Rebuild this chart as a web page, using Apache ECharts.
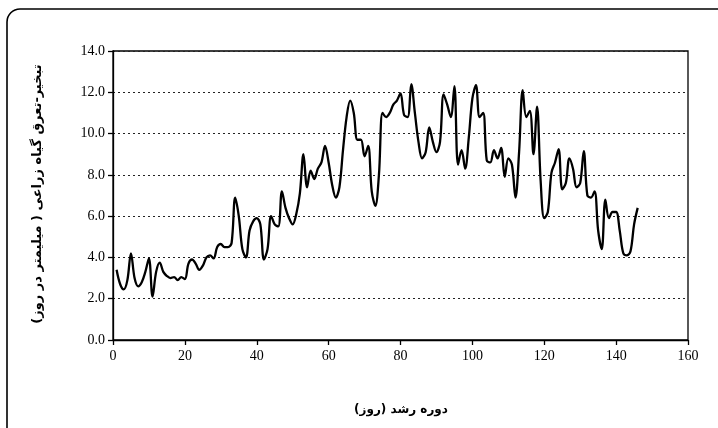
<!DOCTYPE html>
<html>
<head>
<meta charset="utf-8">
<script src="https://cdn.jsdelivr.net/npm/echarts@6/dist/echarts.min.js"></script>
<style>
html,body{margin:0;padding:0;background:#fff;}
#chart{width:718px;height:428px;}
</style>
</head>
<body>
<div id="chart"></div>
<script>
// Daily crop evapotranspiration (mm/day), day 1 .. 146
const etValues = [
 3.4, 2.7, 2.45, 2.9, 4.2, 3.0, 2.6, 2.8, 3.3, 3.95,
 2.1, 3.3, 3.75, 3.3, 3.1, 3.0, 3.05, 2.9, 3.05, 2.95,
 3.7, 3.9, 3.7, 3.4, 3.6, 4.0, 4.1, 3.95, 4.5, 4.65,
 4.5, 4.5, 4.7, 6.9, 6.0, 4.4, 4.0, 5.3, 5.75, 5.9,
 5.6, 3.9, 4.4, 6.0, 5.6, 5.5, 7.2, 6.4, 5.9, 5.6,
 6.1, 7.1, 9.0, 7.4, 8.2, 7.8, 8.3, 8.6, 9.4, 8.6,
 7.5, 6.9, 7.4, 9.2, 10.8, 11.6, 11.0, 9.7, 9.7, 8.9,
 9.4, 7.2, 6.5, 8.0, 11.0, 10.8, 11.0, 11.4, 11.6, 11.95,
 10.9, 10.8, 12.4, 11.0, 9.6, 8.8, 9.1, 10.3, 9.6, 9.1,
 9.6, 11.9, 11.4, 10.8, 12.3, 8.5, 9.2, 8.3, 9.8, 11.7,
 12.35, 10.8, 11.0, 8.7, 8.6, 9.2, 8.8, 9.3, 7.9, 8.8,
 8.5, 6.9, 9.1, 12.1, 10.8, 11.1, 9.0, 11.3, 7.7, 5.9,
 6.2, 8.1, 8.6, 9.25, 7.3, 7.6, 8.8, 8.3, 7.4, 7.6,
 9.15, 7.0, 6.9, 7.2, 5.3, 4.4, 6.8, 5.9, 6.2, 6.2,
 5.3, 4.2, 4.1, 4.3, 5.6, 6.4
];
const firstDay = 1;
const days = etValues.map((v, i) => firstDay + i);
const xTicks = [0, 20, 40, 60, 80, 100, 120, 140, 160];
const yTicks = [0, 2, 4, 6, 8, 10, 12, 14];
const xTitle = 'دوره رشد (روز)';
const yTitle = 'تبخیر-تعرق گیاه زراعی ( میلیمتر در روز)';

const chart = echarts.init(document.getElementById('chart'), null, {renderer: 'canvas'});
const serif = '"Liberation Serif", "Times New Roman", serif';
const arab = '"DejaVu Sans", sans-serif';

chart.setOption({
  animation: false,
  backgroundColor: '#fff',
  grid: {
    left: 113, right: 30, top: 51, bottom: 88,
    show: true, borderColor: '#000', borderWidth: 1.3, backgroundColor: 'transparent'
  },
  graphic: [
    {
      type: 'rect', silent: true, z: -1,
      shape: {x: 7, y: 9, width: 740, height: 450, r: 13},
      style: {fill: 'none', stroke: '#000', lineWidth: 1.6}
    },
    {
      type: 'text', silent: true,
      x: 401, y: 410,
      style: {text: xTitle, font: 'bold 12px ' + arab, fill: '#000',
              textAlign: 'center', textVerticalAlign: 'middle'}
    },
    {
      type: 'text', silent: true,
      x: 38, y: 194, rotation: Math.PI / 2,
      style: {text: yTitle, font: 'bold 13px ' + arab, fill: '#000',
              textAlign: 'center', textVerticalAlign: 'middle'}
    }
  ],
  xAxis: {
    type: 'value',
    min: xTicks[0], max: xTicks[xTicks.length - 1], interval: xTicks[1] - xTicks[0],
    axisLine: {show: true, lineStyle: {color: '#000', width: 1.3}},
    axisTick: {show: true, inside: false, length: 5, lineStyle: {color: '#000', width: 1.3}},
    axisLabel: {color: '#000', fontFamily: serif, fontSize: 14, margin: 9},
    splitLine: {show: false}
  },
  yAxis: {
    type: 'value',
    min: yTicks[0], max: yTicks[yTicks.length - 1], interval: yTicks[1] - yTicks[0],
    axisLine: {show: true, lineStyle: {color: '#000', width: 1.3}},
    axisTick: {show: true, inside: false, length: 5, lineStyle: {color: '#000', width: 1.3}},
    axisLabel: {color: '#000', fontFamily: serif, fontSize: 14, margin: 8,
                formatter: v => v.toFixed(1)},
    splitLine: {show: true, lineStyle: {color: '#222', width: 1, type: [2, 3]}}
  },
  series: [{
    type: 'line',
    data: days.map((d, i) => [d, etValues[i]]),
    smooth: 0.35,
    symbol: 'none',
    lineStyle: {color: '#000', width: 2.3},
    z: 3
  }]
});
</script>
</body>
</html>
